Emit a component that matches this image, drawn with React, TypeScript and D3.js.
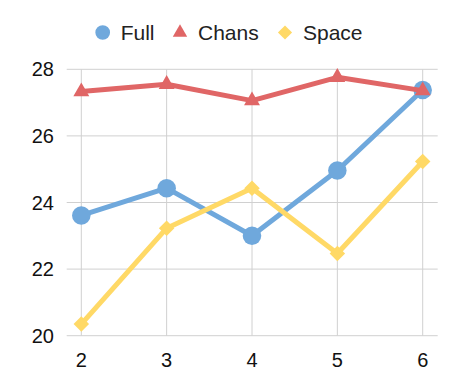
import React from "react";
import * as d3 from "d3";

const categories = [2, 3, 4, 5, 6];
const fullValues = [23.61, 24.43, 23.0, 24.96, 27.38];
const chansValues = [27.33, 27.55, 27.06, 27.76, 27.36];
const spaceValues = [20.35, 23.23, 24.43, 22.47, 25.23];
const yTicks = [20, 22, 24, 26, 28];
const seriesNames = ["Full", "Chans", "Space"];
const seriesColors = ["#6fa8dc", "#e06666", "#ffd966"];
const seriesShapes = ["circle", "triangle", "diamond"];

const W = 458, H = 391;
const plotLeft = 66.7, plotRight = 437.7;

export default function App() {
  const x = d3.scaleLinear().domain([2, 6]).range([81.3, 422.7]);
  const y = d3.scaleLinear().domain([20, 28]).range([335.7, 69.3]);
  const line = d3.line<number>().x((_, i) => x(categories[i])).y((d) => y(d));
  const all = [fullValues, chansValues, spaceValues];
  const symbolPath = (shape: string, size: number) => {
    const t = shape === "circle" ? d3.symbolCircle : shape === "triangle" ? d3.symbolTriangle : d3.symbolSquare;
    return d3.symbol().type(t).size(size)() as string;
  };
  const rot = (shape: string) => (shape === "diamond" ? " rotate(45)" : "");
  const markerSize: Record<string, number> = { circle: 270, triangle: 110, diamond: 120 };
  const legendSize: Record<string, number> = { circle: 170, triangle: 90, diamond: 100 };
  const legendX = [102.7, 180, 285];
  const font = "Arial, 'Liberation Sans', sans-serif";
  return (
    <svg width={W} height={H} style={{ position: "absolute", left: 0, top: 0 }} fontFamily={font}>
      <rect width={W} height={H} fill="#fff" />
      {yTicks.map((t) => (
        <g key={"y" + t}>
          <line x1={plotLeft} x2={plotRight} y1={y(t)} y2={y(t)} stroke="#d0d0d0" strokeWidth={1} />
          <text x={54} y={y(t)} dy="0.35em" textAnchor="end" fontSize={20} fill="#111">{t}</text>
        </g>
      ))}
      {categories.map((c) => (
        <g key={"x" + c}>
          <line x1={x(c)} x2={x(c)} y1={y(28)} y2={y(20)} stroke="#d0d0d0" strokeWidth={1} />
          <text x={x(c)} y={366.7} textAnchor="middle" fontSize={20} fill="#111">{c}</text>
        </g>
      ))}
      {all.map((vals, si) => (
        <g key={"s" + si}>
          <path d={line(vals) as string} fill="none" stroke={seriesColors[si]} strokeWidth={5} strokeLinejoin="round" />
          {vals.map((v, i) => (
            <path key={i} d={symbolPath(seriesShapes[si], markerSize[seriesShapes[si]])}
              transform={`translate(${x(categories[i])},${y(v)})${rot(seriesShapes[si])}`} fill={seriesColors[si]} />
          ))}
        </g>
      ))}
      {seriesNames.map((n, i) => (
        <g key={"l" + n}>
          <path d={symbolPath(seriesShapes[i], legendSize[seriesShapes[i]])} transform={`translate(${legendX[i]},32.5)${rot(seriesShapes[i])}`} fill={seriesColors[i]} />
          <text x={legendX[i] + 18} y={40} fontSize={21} fill="#222">{n}</text>
        </g>
      ))}
    </svg>
  );
}
